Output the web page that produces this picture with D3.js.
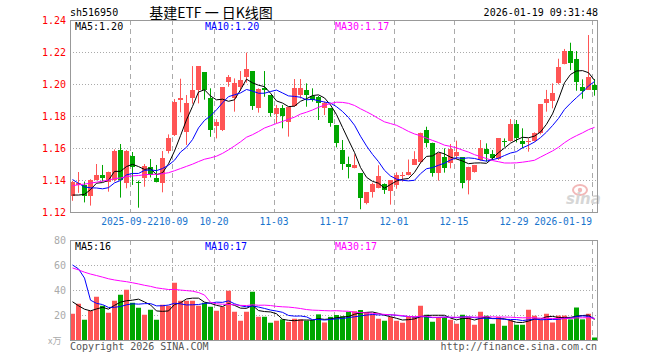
<!DOCTYPE html>
<html><head><meta charset="utf-8">
<script src="https://cdn.jsdelivr.net/npm/d3@7"></script>
<style>body{margin:0;background:#fff}svg{display:block}</style>
</head><body><svg id="c" width="660" height="360"></svg>
<script>
const dates = [
"2025-09-08","2025-09-09","2025-09-10","2025-09-11","2025-09-12","2025-09-15","2025-09-16","2025-09-17","2025-09-18","2025-09-19",
"2025-09-22","2025-09-23","2025-09-24","2025-09-25","2025-09-26","2025-09-29","2025-09-30",
"2025-10-09","2025-10-10","2025-10-13","2025-10-14","2025-10-15","2025-10-16","2025-10-17","2025-10-20","2025-10-21","2025-10-22",
"2025-10-23","2025-10-24","2025-10-27","2025-10-28","2025-10-29","2025-10-30","2025-10-31",
"2025-11-03","2025-11-04","2025-11-05","2025-11-06","2025-11-07","2025-11-10","2025-11-11","2025-11-12","2025-11-13","2025-11-14",
"2025-11-17","2025-11-18","2025-11-19","2025-11-20","2025-11-21","2025-11-24","2025-11-25","2025-11-26","2025-11-27","2025-11-28",
"2025-12-01","2025-12-02","2025-12-03","2025-12-04","2025-12-05","2025-12-08","2025-12-09","2025-12-10","2025-12-11","2025-12-12",
"2025-12-15","2025-12-16","2025-12-17","2025-12-18","2025-12-19","2025-12-22","2025-12-23","2025-12-24","2025-12-25","2025-12-26",
"2025-12-29","2025-12-30","2025-12-31","2026-01-05","2026-01-06","2026-01-07","2026-01-08","2026-01-09",
"2026-01-12","2026-01-13","2026-01-14","2026-01-15","2026-01-16","2026-01-19"];
const opens = [1.130,1.137,1.137,1.130,1.140,1.143,1.139,1.140,1.159,1.138,
1.155,1.139,1.141,1.148,1.1414,1.138,1.158,1.168,1.190,1.170,
1.191,1.196,1.2075,1.191,1.1735,1.171,1.2015,1.191,1.198,1.2046,
1.208,1.185,1.1977,1.193,1.1813,1.185,1.1765,1.186,1.193,1.1963,
1.1927,1.192,1.185,1.185,1.1744,1.159,1.1498,1.1477,1.1442,1.1254,
1.1327,1.1352,1.1373,1.1334,1.1366,1.1422,1.1433,1.1494,1.1515,1.1713,
1.1633,1.1446,1.1542,1.1504,1.155,1.1542,1.140,1.1452,1.1525,1.1592,
1.1564,1.153,1.1644,1.1644,1.1748,1.1644,1.1635,1.1644,1.1692,1.1883,
1.1894,1.2004,1.2125,1.2206,1.2156,1.1983,1.1965,1.1996];
const highs = [1.1395,1.145,1.139,1.1405,1.150,1.1494,1.1452,1.1591,1.1625,1.1587,
1.1575,1.1396,1.150,1.1531,1.1494,1.1581,1.1685,1.1906,1.2033,1.1931,
1.2112,1.2112,1.2075,1.1973,1.178,1.198,1.2056,1.2035,1.2081,1.2196,
1.2081,1.1973,1.2081,1.1931,1.1869,1.1869,1.1858,1.2031,1.2031,1.2004,
1.1973,1.1925,1.189,1.185,1.1744,1.165,1.1546,1.156,1.1442,1.1323,
1.1383,1.1492,1.1379,1.140,1.1448,1.145,1.1528,1.158,1.1696,1.1733,
1.1633,1.1567,1.1598,1.1625,1.1646,1.1542,1.1483,1.1494,1.165,1.1629,
1.1587,1.166,1.166,1.1781,1.1775,1.1723,1.166,1.1698,1.1875,1.1963,
1.2004,1.2158,1.2219,1.2258,1.2206,1.2029,1.2306,1.2031];
const lows = [1.127,1.132,1.126,1.124,1.1398,1.139,1.1327,1.139,1.129,1.1348,
1.1369,1.1227,1.1358,1.1416,1.1385,1.1323,1.1566,1.1675,1.1823,1.1619,
1.1877,1.1879,1.1902,1.167,1.166,1.1706,1.1983,1.1827,1.1956,1.2008,
1.1838,1.1821,1.192,1.1796,1.1754,1.1723,1.1671,1.1858,1.191,1.1858,
1.189,1.1775,1.1806,1.1733,1.1604,1.1463,1.141,1.1473,1.1217,1.1248,
1.129,1.1348,1.1313,1.1246,1.1345,1.139,1.1429,1.1494,1.1504,1.1604,
1.1421,1.1396,1.1446,1.1473,1.1529,1.1348,1.131,1.1446,1.1521,1.1515,
1.1525,1.1525,1.1608,1.164,1.1635,1.1598,1.1577,1.164,1.1685,1.1827,
1.1848,1.1998,1.2123,1.2087,1.1958,1.1908,1.1963,1.1927];
const closes = [1.139,1.138,1.130,1.140,1.143,1.141,1.145,1.158,1.140,1.158,
1.148,1.138,1.149,1.143,1.1385,1.154,1.166,1.189,1.191,1.188,
1.196,1.211,1.196,1.1715,1.176,1.198,1.2044,1.2008,1.2025,1.2094,
1.1865,1.197,1.1963,1.182,1.1852,1.180,1.1858,1.1977,1.1973,1.1931,
1.190,1.188,1.188,1.1754,1.163,1.150,1.1483,1.1494,1.1285,1.1323,
1.1373,1.1425,1.1338,1.140,1.1431,1.143,1.1447,1.1531,1.1696,1.1633,
1.1446,1.1567,1.1473,1.1594,1.1577,1.1383,1.1483,1.1494,1.1598,1.1563,
1.1539,1.166,1.164,1.1748,1.1664,1.1623,1.1644,1.1694,1.1875,1.1906,
1.1946,1.2108,1.2204,1.2133,1.2015,1.1958,1.2044,1.1965];
const volumes = [21.0,29.0,16.2,23.4,34.6,27.4,21.8,31.4,36.2,40.2,
29.8,25.8,20.2,24.2,16.2,28.2,27.4,45.8,31.4,31.4,
31.4,27.4,29.8,26.6,23.4,26.6,39.4,22.6,15.4,22.6,
38.6,18.6,18.6,13.8,15.4,16.5,14.5,17,16.5,15.5,
16,20.5,14,18.5,20,19,22.5,23,24,22,
20.5,17,15.4,18.4,15.4,13.8,18.4,18.4,27.4,20.2,
14.6,18.4,18.4,16.2,13,20.2,18.4,12.2,22.6,19.4,
13,18.4,11.4,15.7,12.2,12.2,24.2,19.4,16,21,
14,19.5,19.5,16.5,26,16.5,21,2];
// sessions before the visible window (not drawn, only feed the moving averages)
const priorCloses = [1.120,1.118,1.122,1.125,1.121,1.126,1.130,1.128,1.132,1.135,1.131,1.134,1.136,1.138,
1.142,1.148,1.152,1.150,1.147,1.155,1.162,1.152,1.146,1.144,1.146,1.138,1.128,1.125,1.123];
const priorVolumes = [75,72,68,70,65,62,60,58,60,55,55,52,50,52,48,47,45,46,44,45,
60,90,200,60,37,45,30,30,27];
const priceTicks = [1.12,1.14,1.16,1.18,1.20,1.22,1.24];
const volumeTicks = [20,40,60,80];
const dateTicks = ["2025-09-22","2025-10-09","2025-10-20","2025-11-03","2025-11-17","2025-12-01","2025-12-15","2025-12-29","2026-01-19"];
const dateTickLabels = ["2025-09-22","10-09","10-20","11-03","11-17","12-01","12-15","12-29","2026-01-19"];
const maPeriods = [5,10,30];
const maColors = ["#000000","#0000ff","#ff00ff"];
const priceLegend = ["MA5:1.20","MA10:1.20","MA30:1.17"];
const volumeLegend = ["MA5:16","MA10:17","MA30:17"];

const UP = "#ff5555", DOWN = "#00a600", GRID = "#aaaaaa", FRAME = "#999999";
const MONO = "'DejaVu Sans Mono', monospace";

const svg = d3.select("#c");
const L = 70, R = 598, PT = 20, PB = 212, VT = 240, VB = 340;

const x = d3.scaleBand().domain(dates).range([69.5, 597.5]).paddingInner(1/6).paddingOuter(1/12);
const bw = x.bandwidth();
const cx = d => x(d) + 2.5;
const y = d3.scaleLinear().domain([1.12, 1.24]).range([PB, PT]);
const yv = d3.scaleLinear().domain([0, 80]).range([VB, VT]);

function movingAvg(prior, vals, p) {
  const all = prior.concat(vals), off = prior.length;
  return vals.map((v, i) => d3.mean(all.slice(off + i - p + 1, off + i + 1)));
}

const defs = svg.append("defs");
defs.append("clipPath").attr("id","cp").append("rect").attr("x",L).attr("y",PT).attr("width",R-L).attr("height",PB-PT);
defs.append("clipPath").attr("id","cv").append("rect").attr("x",L).attr("y",VT).attr("width",R-L).attr("height",VB-VT);

// header
svg.append("text").attr("x",70).attr("y",16).attr("font-family",MONO).attr("font-size",10).attr("fill","#000").text("sh516950");
svg.append("text").attr("x",211).attr("y",18).attr("text-anchor","middle").attr("font-family","'Noto Sans CJK SC', sans-serif").attr("font-size",14).attr("fill","#000").text("基建ETF 一 日K线图");
svg.append("text").attr("x",598).attr("y",16).attr("text-anchor","end").attr("font-family",MONO).attr("font-size",10).attr("fill","#000").text("2026-01-19 09:31:48");

// grids
const g = svg.append("g");
[[PT,PB],[VT,VB]].forEach(([t,b]) => {
  g.selectAll(null).data(dateTicks).enter().append("line")
    .attr("x1", d => x(d) + 0.5).attr("x2", d => x(d) + 0.5)
    .attr("y1", t).attr("y2", b)
    .attr("stroke", GRID).attr("stroke-dasharray","5,4").attr("stroke-width",1);
});
g.selectAll(null).data(priceTicks.slice(1,-1)).enter().append("line")
  .attr("x1",L).attr("x2",R).attr("y1", d => Math.round(y(d))+0.5).attr("y2", d => Math.round(y(d))+0.5)
  .attr("stroke",GRID).attr("stroke-dasharray","1,2");
g.selectAll(null).data(volumeTicks.slice(0,-1)).enter().append("line")
  .attr("x1",L).attr("x2",R).attr("y1", d => Math.round(yv(d))+0.5).attr("y2", d => Math.round(yv(d))+0.5)
  .attr("stroke",GRID).attr("stroke-dasharray","1,2");

// watermark
const wm = svg.append("g");
wm.append("ellipse").attr("cx",580).attr("cy",190).attr("rx",7).attr("ry",5).attr("fill","none").attr("stroke","#f2b8b8").attr("stroke-width",2);
wm.append("circle").attr("cx",580).attr("cy",190).attr("r",2.2).attr("fill","#f2b8b8");
wm.append("text").attr("x",566).attr("y",204).attr("font-family","'DejaVu Sans', sans-serif").attr("font-style","italic").attr("font-weight","bold").attr("font-size",15).attr("fill","#d6d6d6").text("sina");

// candles
const cg = svg.append("g").attr("clip-path","url(#cp)");
const idx = d3.range(dates.length);
cg.selectAll("line.w").data(idx).enter().append("line")
  .attr("x1", i => cx(dates[i])).attr("x2", i => cx(dates[i]))
  .attr("y1", i => y(highs[i])).attr("y2", i => y(lows[i]))
  .attr("stroke", i => closes[i] >= opens[i] ? UP : DOWN).attr("stroke-width",1);
cg.selectAll("rect.b").data(idx).enter().append("rect")
  .attr("x", i => x(dates[i])).attr("width", bw)
  .attr("y", i => Math.round(y(Math.max(opens[i], closes[i]))))
  .attr("height", i => Math.max(1, Math.round(y(Math.min(opens[i], closes[i]))) - Math.round(y(Math.max(opens[i], closes[i])))))
  .attr("fill", i => closes[i] >= opens[i] ? UP : DOWN);

// price MAs
maPeriods.forEach((p, k) => {
  const ma = movingAvg(priorCloses, closes, p);
  cg.append("path").datum(ma)
    .attr("d", d3.line().x((d,i) => cx(dates[i])).y(d => y(d)))
    .attr("fill","none").attr("stroke", maColors[k]).attr("stroke-width",1);
});

// volume bars
const vg = svg.append("g").attr("clip-path","url(#cv)");
vg.selectAll("rect").data(idx).enter().append("rect")
  .attr("x", i => x(dates[i])).attr("width", bw)
  .attr("y", i => yv(volumes[i])).attr("height", i => VB - yv(volumes[i]))
  .attr("fill", i => closes[i] >= opens[i] ? UP : DOWN);
maPeriods.forEach((p, k) => {
  const ma = movingAvg(priorVolumes, volumes, p);
  vg.append("path").datum(ma)
    .attr("d", d3.line().x((d,i) => cx(dates[i])).y(d => yv(d)))
    .attr("fill","none").attr("stroke", maColors[k]).attr("stroke-width",1);
});

// frames
[[PT,PB],[VT,VB]].forEach(([t,b]) => {
  svg.append("rect").attr("x",L+0.5).attr("y",t+0.5).attr("width",R-L-1).attr("height",b-t)
    .attr("fill","none").attr("stroke",FRAME).attr("stroke-width",1);
});

// axes
const ay = svg.append("g").attr("transform",`translate(${L},0)`)
  .call(d3.axisLeft(y).tickValues(priceTicks).tickSize(0).tickPadding(4).tickFormat(d3.format(".2f")));
ay.select(".domain").remove();
ay.selectAll("text").attr("font-family",MONO).attr("font-size",10).attr("fill","#ff0000");

const av = svg.append("g").attr("transform",`translate(${L},0)`)
  .call(d3.axisLeft(yv).tickValues(volumeTicks).tickSize(0).tickPadding(4));
av.select(".domain").remove();
av.selectAll("text").attr("font-family",MONO).attr("font-size",10).attr("fill","#aaaaaa");

const ax = svg.append("g").attr("transform",`translate(0,${PB})`)
  .call(d3.axisBottom(x).tickValues(dateTicks).tickSize(0).tickPadding(6).tickFormat((d,i) => dateTickLabels[i]));
ax.select(".domain").remove();
ax.selectAll("text").attr("font-family",MONO).attr("font-size",9.6).attr("fill","#1874cd")
  .attr("x", (d,i) => i === 1 ? -1 : -2.5)
  .attr("text-anchor", (d,i) => i === dateTicks.length - 1 ? "end" : "middle");

// legends
const legX = [75, 205, 335];
priceLegend.forEach((t,k) => svg.append("text").attr("x",legX[k]).attr("y",30).attr("font-family",MONO).attr("font-size",10).attr("fill",maColors[k]).text(t));
volumeLegend.forEach((t,k) => svg.append("text").attr("x",legX[k]).attr("y",250).attr("font-family",MONO).attr("font-size",10).attr("fill",maColors[k]).text(t));

// footer
svg.append("text").attr("x",48).attr("y",344).attr("font-family","'Noto Sans CJK SC', sans-serif").attr("font-size",9).attr("fill","#aaaaaa").text("x万");
svg.append("text").attr("x",70).attr("y",350).attr("font-family",MONO).attr("font-size",10).attr("fill","#555555").text("Copyright 2026 SINA.COM");
svg.append("text").attr("x",597).attr("y",350).attr("text-anchor","end").attr("font-family",MONO).attr("font-size",10).attr("fill","#555555").text("http://finance.sina.com.cn");
</script></body></html>
